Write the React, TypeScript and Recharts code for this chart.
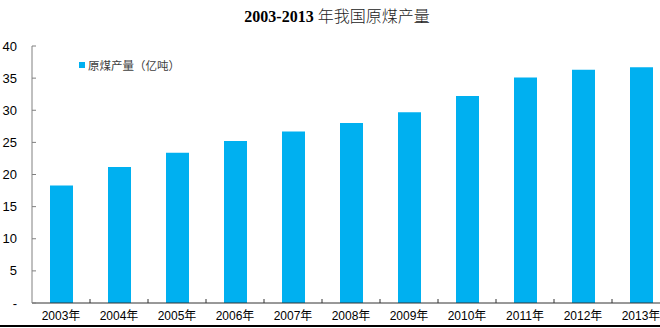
import React from 'react';
import { BarChart, Bar, XAxis, YAxis, Legend } from 'recharts';

const categories = ['2003年', '2004年', '2005年', '2006年', '2007年', '2008年', '2009年', '2010年', '2011年', '2012年', '2013年'];
const output = [18.3, 21.15, 23.4, 25.2, 26.7, 28.0, 29.7, 32.2, 35.1, 36.3, 36.7];
const yTicks = [0, 5, 10, 15, 20, 25, 30, 35, 40];
const seriesName = '原煤产量（亿吨）';
const titleNum = '2003-2013';
const titleText = '年我国原煤产量';

const data = categories.map((c, i) => ({ name: c, value: output[i] }));

const BLUE = '#00B0F0';
const CHART_W = 680;
const CHART_H = 328;
const MARGIN = { top: 46, right: 10, bottom: 0, left: 0 };
const Y_W = 32;
const X_H = 25;
const AXIS_Y = CHART_H - MARGIN.bottom - X_H;
const STEP = (CHART_W - MARGIN.left - MARGIN.right - Y_W) / categories.length;

const YTick = (props: any) => {
  const { y, payload } = props;
  return (
    <g>
      <line x1={Y_W} x2={Y_W + 4} y1={y} y2={y} stroke="#808080" strokeWidth={1} />
      <text x={Y_W - 15} y={y} dy={4.5} textAnchor="end" fontFamily="'Liberation Sans', Arial, sans-serif" fontSize={13} fill="#000">
        {payload.value === 0 ? '-' : payload.value}
      </text>
    </g>
  );
};

const XTick = (props: any) => {
  const { x, payload } = props;
  const bx = x + STEP / 2;
  return (
    <g>
      <line x1={bx} x2={bx} y1={AXIS_Y} y2={AXIS_Y - 4} stroke="#333" strokeWidth={1} />
      <text x={x} y={AXIS_Y + 17} textAnchor="middle" fontFamily="'Liberation Sans', Arial, 'Noto Sans CJK SC', sans-serif" fontSize={12} fill="#000">
        {payload.value}
      </text>
    </g>
  );
};

const LegendContent = () => (
  <div style={{ display: 'flex', alignItems: 'center', fontFamily: "'Noto Sans CJK SC', sans-serif", fontSize: 11.5, color: '#404040', lineHeight: '14px', whiteSpace: 'nowrap' }}>
    <span style={{ display: 'inline-block', width: 6, height: 6, background: BLUE, marginRight: 3 }} />
    <span>{seriesName}</span>
  </div>
);

export default function App() {
  return (
    <div style={{ position: 'absolute', left: 0, top: 0, width: 660, height: 328, overflow: 'hidden', background: '#fff' }}>
      <div style={{ position: 'absolute', left: 0, top: 5, width: 674, textAlign: 'center', whiteSpace: 'nowrap', fontSize: 16, lineHeight: '20px', color: '#000' }}>
        <span style={{ fontFamily: "'Liberation Serif', 'Times New Roman', serif", fontWeight: 'bold' }}>{titleNum}</span>
        <span style={{ fontFamily: "'Liberation Serif', serif" }}> </span>
        <span style={{ fontFamily: "'Noto Sans CJK SC', sans-serif", fontWeight: 300, color: '#222' }}>{titleText}</span>
      </div>
      <BarChart width={CHART_W} height={CHART_H} data={data} margin={MARGIN} barSize={23}>
        <XAxis
          dataKey="name"
          height={X_H}
          axisLine={{ stroke: '#333', strokeWidth: 1 }}
          tickLine={false}
          tick={<XTick />}
          interval={0}
        />
        <YAxis
          width={Y_W}
          domain={[0, 40]}
          ticks={yTicks}
          axisLine={{ stroke: '#808080', strokeWidth: 1 }}
          tickLine={false}
          tick={<YTick />}
          interval={0}
        />
        <Legend
          layout="vertical"
          verticalAlign="middle"
          align="center"
          content={<LegendContent />}
          wrapperStyle={{ position: 'absolute', left: 79, top: 58, width: 'auto', height: 'auto' }}
        />
        <Bar dataKey="value" name={seriesName} fill={BLUE} isAnimationActive={false} />
      </BarChart>
      <div style={{ position: 'absolute', left: 0, top: 325, width: 660, height: 1.5, background: '#000' }} />
    </div>
  );
}
